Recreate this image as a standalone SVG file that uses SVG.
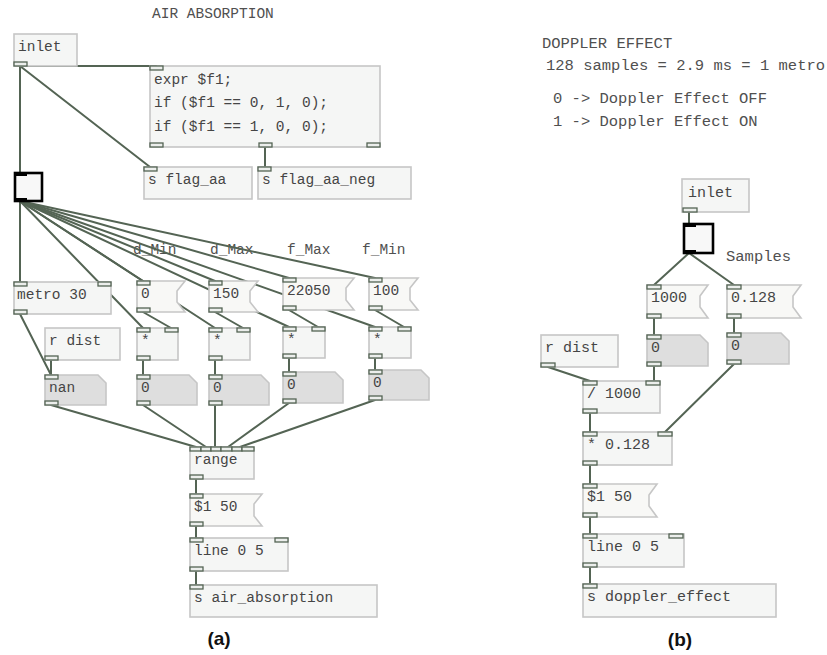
<svg xmlns="http://www.w3.org/2000/svg" xmlns:xlink="http://www.w3.org/1999/xlink" width="827" height="655" viewBox="0 0 827 655">
  <defs>
    <style>
      .obj { fill: #f5f6f5; stroke: #c6c6c6; stroke-width: 1.6; }
      .msg { fill: #f8f8f6; stroke: #c6c6c6; stroke-width: 1.6; }
      .num { fill: #dedede; stroke: #c6c6c6; stroke-width: 1.6; }
      .bng { fill: #f8f8f8; stroke: #000; stroke-width: 2.6; }
      .io  { fill: #eceeec; stroke: #546454; stroke-width: 1.3; }
      .bio { fill: #000; }
      .wire { stroke: #546454; stroke-width: 2; fill: none; stroke-linecap: round; }
      .t  { font-family: "Liberation Mono", "Courier New", monospace; font-size: 14.5px; fill: #454545; }
      .tb { font-family: "Liberation Mono", "Courier New", monospace; font-size: 15px; fill: #454545; }
      .c  { font-family: "Liberation Mono", "Courier New", monospace; font-size: 14.5px; fill: #505050; }
      .cb { font-family: "Liberation Mono", "Courier New", monospace; font-size: 15.5px; fill: #505050; }
      .cap { font-family: "Liberation Sans", Arial, sans-serif; font-size: 19px; font-weight: bold; fill: #111; }
    </style>
    <rect id="port" class="io" width="13" height="4"/>
    <rect id="portR" class="io" width="14" height="4"/>
  </defs>

  <!-- ===== (a) air absorption ===== -->
  <text class="c" x="152" y="18">AIR ABSORPTION</text>
  <text class="c" x="133" y="254">d_Min</text>
  <text class="c" x="210" y="254">d_Max</text>
  <text class="c" x="287" y="254">f_Max</text>
  <text class="c" x="362" y="254">f_Min</text>

  <g id="wires-a">
    <path class="wire" d="M20 66 H156"/>
    <path class="wire" d="M20 66 L150 167"/>
    <path class="wire" d="M20 66 V172"/>
    <path class="wire" d="M265 147 V167"/>
    <!-- bang fan-out -->
    <path class="wire" d="M20 201 V282"/>
    <path class="wire" d="M20 201 L143 328"/>
    <path class="wire" d="M20 201 L143 281"/>
    <path class="wire" d="M20 201 L215 328"/>
    <path class="wire" d="M20 201 L215 281"/>
    <path class="wire" d="M20 201 L289 327"/>
    <path class="wire" d="M20 201 L289 278"/>
    <path class="wire" d="M20 201 L375 327"/>
    <path class="wire" d="M20 201 L375 278"/>
    <!-- messages into right inlets of multipliers -->
    <path class="wire" d="M143 312 L171 328"/>
    <path class="wire" d="M215 312 L243 328"/>
    <path class="wire" d="M289 310 L318 327"/>
    <path class="wire" d="M375 310 L404 327"/>
    <!-- multipliers into number boxes -->
    <path class="wire" d="M143 360 V375"/>
    <path class="wire" d="M215 360 V375"/>
    <path class="wire" d="M289 358 V372"/>
    <path class="wire" d="M375 358 V370"/>
    <path class="wire" d="M20 314 L51 375"/>
    <path class="wire" d="M51 360 V375"/>
    <!-- into range -->
    <path class="wire" d="M51 405 L196 447"/>
    <path class="wire" d="M143 405 L206 447"/>
    <path class="wire" d="M215 405 V447"/>
    <path class="wire" d="M289 403 L228 447"/>
    <path class="wire" d="M375 400 L240 447"/>
    <path class="wire" d="M196 479 V494"/>
    <path class="wire" d="M196 526 V538"/>
    <path class="wire" d="M196 571 V585"/>
  </g>

  <g id="inlet-a">
    <rect class="obj" x="14" y="34" width="63" height="32"/>
    <text class="t" x="18" y="51">inlet</text>
    <use xlink:href="#port" x="14" y="62"/>
  </g>
  <g id="expr">
    <rect class="obj" x="150" y="66" width="230" height="81"/>
    <text class="t" x="154" y="84">expr $f1;</text>
    <text class="t" x="154" y="107">if ($f1 == 0, 1, 0);</text>
    <text class="t" x="154" y="131">if ($f1 == 1, 0, 0);</text>
    <use xlink:href="#port" x="150" y="66"/>
    <use xlink:href="#port" x="150" y="143"/>
    <use xlink:href="#port" x="259" y="143"/>
    <use xlink:href="#port" x="367" y="143"/>
  </g>
  <g id="send-flag-aa">
    <rect class="obj" x="144" y="167" width="108" height="32"/>
    <text class="t" x="148" y="184">s flag_aa</text>
    <use xlink:href="#port" x="144" y="167"/>
  </g>
  <g id="send-flag-aa-neg">
    <rect class="obj" x="258" y="167" width="153" height="32"/>
    <text class="t" x="262" y="184">s flag_aa_neg</text>
    <use xlink:href="#port" x="258" y="167"/>
  </g>
  <g id="bang-a">
    <rect class="bng" x="15" y="173" width="27" height="28"/>
    <rect class="bio" x="15" y="173" width="12" height="3"/>
    <rect class="bio" x="15" y="198" width="12" height="3"/>
  </g>
  <g id="metro">
    <rect class="obj" x="14" y="282" width="97" height="32"/>
    <text class="t" x="17" y="299">metro 30</text>
    <use xlink:href="#port" x="14" y="282"/>
    <use xlink:href="#port" x="98" y="282"/>
    <use xlink:href="#port" x="14" y="310"/>
  </g>
  <g id="msg-dmin">
    <path class="msg" d="M137 281 H185 L177 291 V302 L185 312 H137 Z"/>
    <text class="t" x="141" y="298">0</text>
    <use xlink:href="#port" x="137" y="281"/>
    <use xlink:href="#port" x="137" y="308"/>
  </g>
  <g id="msg-dmax">
    <path class="msg" d="M209 281 H258 L250 291 V302 L258 312 H209 Z"/>
    <text class="t" x="213" y="298">150</text>
    <use xlink:href="#port" x="209" y="281"/>
    <use xlink:href="#port" x="209" y="308"/>
  </g>
  <g id="msg-fmax">
    <path class="msg" d="M283 278 H354 L346 288 V300 L354 310 H283 Z"/>
    <text class="t" x="287" y="295">22050</text>
    <use xlink:href="#port" x="283" y="278"/>
    <use xlink:href="#port" x="283" y="306"/>
  </g>
  <g id="msg-fmin">
    <path class="msg" d="M369 278 H418 L410 288 V300 L418 310 H369 Z"/>
    <text class="t" x="373" y="295">100</text>
    <use xlink:href="#port" x="369" y="278"/>
    <use xlink:href="#port" x="369" y="306"/>
  </g>
  <g id="mul-1">
    <rect class="obj" x="137" y="328" width="41" height="32"/>
    <text class="t" x="141" y="345">*</text>
    <use xlink:href="#port" x="137" y="328"/>
    <use xlink:href="#port" x="165" y="328"/>
    <use xlink:href="#port" x="137" y="356"/>
  </g>
  <g id="mul-2">
    <rect class="obj" x="209" y="328" width="41" height="32"/>
    <text class="t" x="213" y="345">*</text>
    <use xlink:href="#port" x="209" y="328"/>
    <use xlink:href="#port" x="237" y="328"/>
    <use xlink:href="#port" x="209" y="356"/>
  </g>
  <g id="mul-3">
    <rect class="obj" x="283" y="327" width="42" height="31"/>
    <text class="t" x="287" y="344">*</text>
    <use xlink:href="#port" x="283" y="327"/>
    <use xlink:href="#port" x="312" y="327"/>
    <use xlink:href="#port" x="283" y="354"/>
  </g>
  <g id="mul-4">
    <rect class="obj" x="369" y="327" width="42" height="31"/>
    <text class="t" x="373" y="344">*</text>
    <use xlink:href="#port" x="369" y="327"/>
    <use xlink:href="#port" x="398" y="327"/>
    <use xlink:href="#port" x="369" y="354"/>
  </g>
  <g id="recv-dist-a">
    <rect class="obj" x="45" y="328" width="75" height="32"/>
    <text class="t" x="49" y="345">r dist</text>
    <use xlink:href="#port" x="45" y="356"/>
  </g>
  <g id="num-nan">
    <path class="num" d="M45 375 H98 L106 383 V405 H45 Z"/>
    <text class="t" x="49" y="392">nan</text>
    <use xlink:href="#port" x="45" y="375"/>
    <use xlink:href="#port" x="45" y="401"/>
  </g>
  <g id="num-1">
    <path class="num" d="M137 375 H189 L197 383 V405 H137 Z"/>
    <text class="t" x="141" y="392">0</text>
    <use xlink:href="#port" x="137" y="375"/>
    <use xlink:href="#port" x="137" y="401"/>
  </g>
  <g id="num-2">
    <path class="num" d="M209 375 H261 L269 383 V405 H209 Z"/>
    <text class="t" x="213" y="392">0</text>
    <use xlink:href="#port" x="209" y="375"/>
    <use xlink:href="#port" x="209" y="401"/>
  </g>
  <g id="num-3">
    <path class="num" d="M283 372 H335 L343 380 V403 H283 Z"/>
    <text class="t" x="287" y="389">0</text>
    <use xlink:href="#port" x="283" y="372"/>
    <use xlink:href="#port" x="283" y="399"/>
  </g>
  <g id="num-4">
    <path class="num" d="M369 370 H421 L429 378 V400 H369 Z"/>
    <text class="t" x="373" y="387">0</text>
    <use xlink:href="#port" x="369" y="370"/>
    <use xlink:href="#port" x="369" y="396"/>
  </g>
  <g id="range">
    <rect class="obj" x="190" y="447" width="64" height="32"/>
    <text class="t" x="194" y="464">range</text>
    <rect class="io" x="190" y="447" width="11" height="4"/>
    <rect class="io" x="201" y="447" width="10" height="4"/>
    <rect class="io" x="211" y="447" width="10" height="4"/>
    <rect class="io" x="221" y="447" width="11" height="4"/>
    <rect class="io" x="232" y="447" width="10" height="4"/>
    <rect class="io" x="242" y="447" width="12" height="4"/>
    <use xlink:href="#port" x="190" y="475"/>
  </g>
  <g id="msg-ramp-a">
    <path class="msg" d="M190 494 H262 L254 504 V516 L262 526 H190 Z"/>
    <text class="t" x="194" y="511">$1 50</text>
    <use xlink:href="#port" x="190" y="494"/>
    <use xlink:href="#port" x="190" y="522"/>
  </g>
  <g id="line-a">
    <rect class="obj" x="190" y="538" width="98" height="33"/>
    <text class="t" x="194" y="555">line 0 5</text>
    <use xlink:href="#port" x="190" y="538"/>
    <use xlink:href="#port" x="275" y="538"/>
    <use xlink:href="#port" x="190" y="567"/>
  </g>
  <g id="send-air-absorption">
    <rect class="obj" x="190" y="585" width="187" height="32"/>
    <text class="t" x="194" y="602">s air_absorption</text>
    <use xlink:href="#port" x="190" y="585"/>
  </g>
  <text class="cap" x="219" y="645" text-anchor="middle">(a)</text>

  <!-- ===== (b) doppler effect ===== -->
  <text class="cb" x="542" y="48">DOPPLER EFFECT</text>
  <text class="cb" x="546" y="70">128 samples = 2.9 ms = 1 metro</text>
  <text class="cb" x="553" y="103">0 -&gt; Doppler Effect OFF</text>
  <text class="cb" x="553" y="126">1 -&gt; Doppler Effect ON</text>
  <text class="cb" x="726" y="261">Samples</text>

  <g id="wires-b">
    <path class="wire" d="M689 212 V223"/>
    <path class="wire" d="M689 253 L654 285"/>
    <path class="wire" d="M689 253 L734 285"/>
    <path class="wire" d="M654 318 V335"/>
    <path class="wire" d="M734 318 V333"/>
    <path class="wire" d="M548 367 L590 381"/>
    <path class="wire" d="M654 366 V381"/>
    <path class="wire" d="M590 413 V432"/>
    <path class="wire" d="M734 364 L665 432"/>
    <path class="wire" d="M590 465 V484"/>
    <path class="wire" d="M590 517 V534"/>
    <path class="wire" d="M590 567 V584"/>
  </g>

  <g id="inlet-b">
    <rect class="obj" x="682" y="179" width="67" height="33"/>
    <text class="tb" x="688" y="197">inlet</text>
    <use xlink:href="#portR" x="683" y="208"/>
  </g>
  <g id="bang-b">
    <rect class="bng" x="684" y="224" width="29" height="29"/>
    <rect class="bio" x="684" y="224" width="12" height="3"/>
    <rect class="bio" x="684" y="250" width="12" height="3"/>
  </g>
  <g id="msg-1000">
    <path class="msg" d="M647 285 H708 L700 296 V307 L708 318 H647 Z"/>
    <text class="tb" x="651" y="302">1000</text>
    <use xlink:href="#portR" x="647" y="285"/>
    <use xlink:href="#portR" x="647" y="314"/>
  </g>
  <g id="msg-0128">
    <path class="msg" d="M727 285 H801 L793 296 V307 L801 318 H727 Z"/>
    <text class="tb" x="731" y="302">0.128</text>
    <use xlink:href="#portR" x="727" y="285"/>
    <use xlink:href="#portR" x="727" y="314"/>
  </g>
  <g id="num-b1">
    <path class="num" d="M647 335 H700 L708 343 V366 H647 Z"/>
    <text class="tb" x="651" y="352">0</text>
    <use xlink:href="#portR" x="647" y="335"/>
    <use xlink:href="#portR" x="647" y="362"/>
  </g>
  <g id="num-b2">
    <path class="num" d="M727 333 H781 L789 341 V364 H727 Z"/>
    <text class="tb" x="731" y="350">0</text>
    <use xlink:href="#portR" x="727" y="333"/>
    <use xlink:href="#portR" x="727" y="360"/>
  </g>
  <g id="recv-dist-b">
    <rect class="obj" x="541" y="335" width="77" height="32"/>
    <text class="tb" x="545" y="352">r dist</text>
    <use xlink:href="#portR" x="541" y="363"/>
  </g>
  <g id="div-1000">
    <rect class="obj" x="583" y="381" width="77" height="32"/>
    <text class="tb" x="587" y="398">/ 1000</text>
    <use xlink:href="#portR" x="583" y="381"/>
    <use xlink:href="#portR" x="646" y="381"/>
    <use xlink:href="#portR" x="583" y="409"/>
  </g>
  <g id="mul-0128">
    <rect class="obj" x="583" y="432" width="89" height="33"/>
    <text class="tb" x="587" y="449">* 0.128</text>
    <use xlink:href="#portR" x="583" y="432"/>
    <use xlink:href="#portR" x="658" y="432"/>
    <use xlink:href="#portR" x="583" y="461"/>
  </g>
  <g id="msg-ramp-b">
    <path class="msg" d="M583 484 H657 L649 495 V506 L657 517 H583 Z"/>
    <text class="tb" x="587" y="501">$1 50</text>
    <use xlink:href="#portR" x="583" y="484"/>
    <use xlink:href="#portR" x="583" y="513"/>
  </g>
  <g id="line-b">
    <rect class="obj" x="583" y="534" width="101" height="33"/>
    <text class="tb" x="587" y="551">line 0 5</text>
    <use xlink:href="#portR" x="583" y="534"/>
    <use xlink:href="#portR" x="669" y="534"/>
    <use xlink:href="#portR" x="583" y="563"/>
  </g>
  <g id="send-doppler-effect">
    <rect class="obj" x="583" y="584" width="193" height="33"/>
    <text class="tb" x="587" y="601">s doppler_effect</text>
    <use xlink:href="#portR" x="583" y="584"/>
  </g>
  <text class="cap" x="680" y="646" text-anchor="middle">(b)</text>
</svg>
